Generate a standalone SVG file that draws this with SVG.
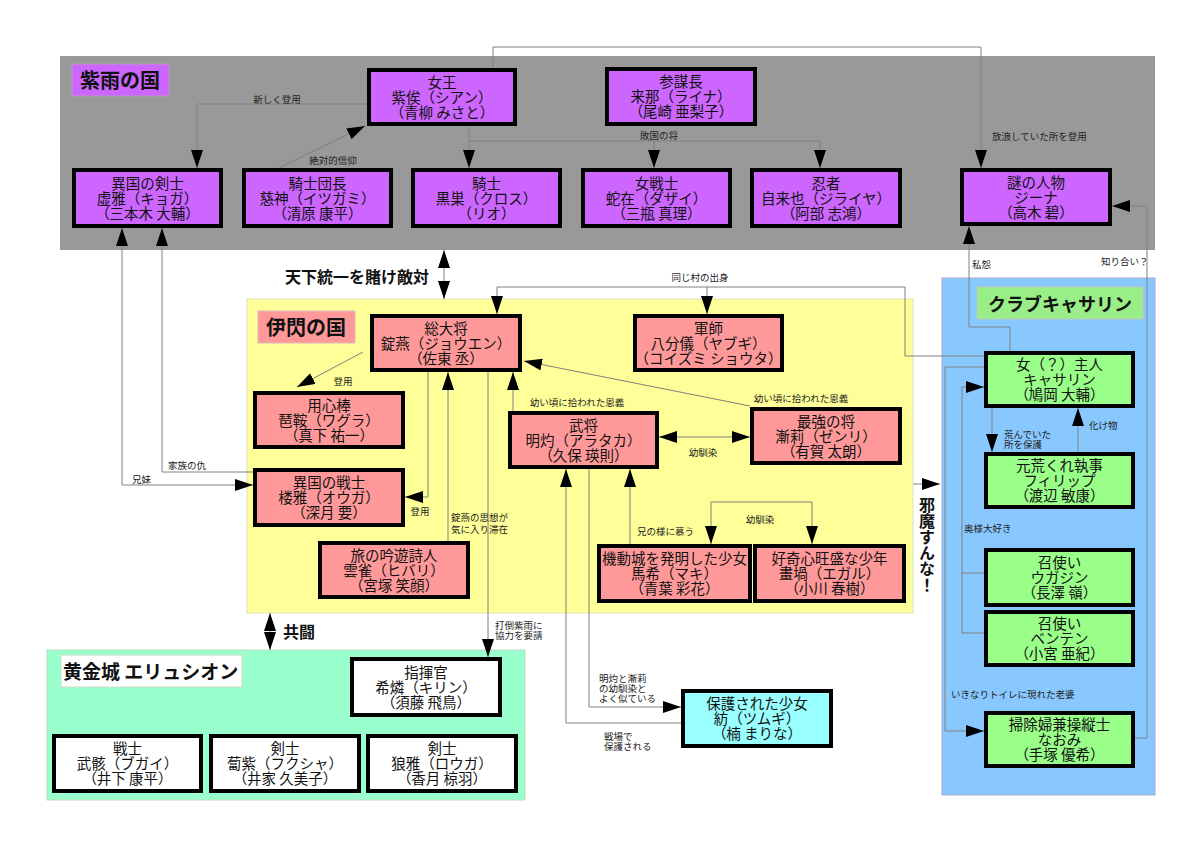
<svg xmlns="http://www.w3.org/2000/svg" width="1200" height="848" viewBox="0 0 1200 848">
<style>
text{font-family:"Noto Sans CJK JP","Noto Sans CJK SC",sans-serif}
.n{font-size:14.5px;text-anchor:middle;fill:#111}
.l{font-size:9.5px;fill:#222}
.c{text-anchor:middle}
.b{font-weight:bold;fill:#111}
.box{stroke:#000;stroke-width:4}
.pu{fill:#cc66ff}.pk{fill:#ff9999}.gr{fill:#99ff88}.wh{fill:#ffffff}.cy{fill:#99ffff}
.ln{fill:none;stroke:#808080;stroke-width:1}
.a{marker-end:url(#ah)}
.aa{marker-end:url(#ah);marker-start:url(#ah)}
</style>
<defs>
<marker id="ah" markerUnits="userSpaceOnUse" markerWidth="18" markerHeight="12" refX="18" refY="6" orient="auto-start-reverse"><path d="M0,0 L18,6 L0,12 z" fill="#000"/></marker>
</defs>
<rect width="1200" height="848" fill="#fff"/>
<g id="regions">
<rect x="60" y="56" width="1095" height="194" fill="#999999"/>
<rect x="247" y="299" width="666" height="314" fill="#ffff99" stroke="#e0e0c0"/>
<rect x="942" y="278" width="213" height="517" fill="#88c8ff" stroke="#aac"/>
<rect x="47" y="650" width="478" height="150" fill="#99ffcc" stroke="#bdb"/>
<rect x="72" y="64" width="97" height="32" fill="#cc66ff" stroke="#b9b"/>
<text x="80" y="88" class="b" font-size="20">紫雨の国</text>
<rect x="258" y="311" width="97" height="32" fill="#ff9999" stroke="#dbb"/>
<text x="266" y="335" class="b" font-size="20">伊閃の国</text>
<rect x="977" y="287" width="166" height="32" fill="#99ee88" stroke="#bcb"/>
<text x="1060" y="311" class="b c" font-size="18">クラブキャサリン</text>
<rect x="61" y="655" width="181" height="32" fill="#ffffff" stroke="#cdc"/>
<text x="63" y="679" class="b" font-size="19">黄金城 エリュシオン</text>
</g>
<g id="connectors">
<path class="ln a" d="M367,104 H197 V168"/>
<path class="ln a" d="M279,168 L365,126"/>
<path class="ln a" d="M469,126 V168"/>
<path class="ln a" d="M469,141 H820 V168"/>
<path class="ln a" d="M654,141 V168"/>
<path class="ln a" d="M493,67 V47 H981 V168"/>
<path class="ln a" d="M1010,351 V327 H969 V226"/>
<path class="ln a" d="M1135,738 H1147 V206 H1112"/>
<path class="ln aa" d="M444,250 V299"/>
<path class="ln a" d="M984,356 H905 V287 H497 V314"/>
<path class="ln a" d="M707,287 V314"/>
<path class="ln a" d="M363,352 L297,387"/>
<path class="ln a" d="M428,372 V497 H405"/>
<path class="ln a" d="M448,541 V372"/>
<path class="ln a" d="M488,372 V657"/>
<path class="ln a" d="M513,411 V372"/>
<path class="ln a" d="M750,406 L524,361"/>
<path class="ln aa" d="M659,437 H750"/>
<path class="ln a" d="M630,544 V469"/>
<path class="ln aa" d="M711,544 V502 H812 V544"/>
<path class="ln a" d="M681,723 H566 V469"/>
<path class="ln a" d="M589,469 V707 H681"/>
<path class="ln a" d="M253,472 H162 V228"/>
<path class="ln aa" d="M122,228 V485 H253"/>
<path class="ln aa" d="M270,613 V650"/>
<path class="ln a" d="M913,484 H940"/>
<path class="ln a" d="M992,408 V452"/>
<path class="ln a" d="M1078,452 V408"/>
<path class="ln a" d="M984,633 H962 V387 H984"/>
<path class="ln" d="M984,573 H962"/>
<path class="ln a" d="M984,367 H945 V731 H984"/>
<text class="l c" x="277" y="103">新しく登用</text>
<text class="l c" x="333" y="164">絶対的信仰</text>
<text class="l c" x="659" y="139">敗国の将</text>
<text class="l" x="992" y="140">放浪していた所を登用</text>
<text class="l" x="972" y="268">私怨</text>
<text class="l" x="1101" y="265">知り合い？</text>
<text class="l c" x="700" y="281">同じ村の出身</text>
<text class="l c" x="343" y="385">登用</text>
<text class="l c" x="420" y="515">登用</text>
<text class="l" x="451" y="521">錠燕の思想が</text>
<text class="l" x="451" y="533">気に入り滞在</text>
<text class="l" x="495" y="629">打倒紫雨に</text>
<text class="l" x="495" y="639">協力を要請</text>
<text class="l c" x="577" y="406">幼い頃に拾われた恩義</text>
<text class="l c" x="801" y="402">幼い頃に拾われた恩義</text>
<text class="l c" x="703" y="456">幼馴染</text>
<text class="l" x="637" y="535">兄の様に慕う</text>
<text class="l c" x="760" y="523">幼馴染</text>
<text class="l" x="599" y="682">明灼と漸莉</text>
<text class="l" x="599" y="692">の幼馴染と</text>
<text class="l" x="599" y="702">よく似ている</text>
<text class="l" x="604" y="740">戦場で</text>
<text class="l" x="604" y="750">保護される</text>
<text class="l" x="168" y="469">家族の仇</text>
<text class="l" x="132" y="483">兄妹</text>
<text class="l" x="1004" y="438">荒んでいた</text>
<text class="l" x="1004" y="448">所を保護</text>
<text class="l" x="1089" y="429">化け物</text>
<text class="l" x="964" y="532">奥様大好き</text>
<text class="l" x="951" y="698">いきなりトイレに現れた老婆</text>
<text class="b" x="285" y="283" font-size="16">天下統一を賭け敵対</text>
<text class="b" x="283" y="638" font-size="16">共闘</text>
<text class="b" x="927" y="497" font-size="16" writing-mode="vertical-rl">邪魔すんな！</text>
</g>
<g id="queen"><rect class="box pu" x="369" y="70" width="146" height="54"/><text class="n" x="442" y="87.5"><tspan x="442">女王</tspan><tspan x="442" dy="15">紫俟（シアン）</tspan><tspan x="442" dy="15">（青柳 みさと）</tspan></text></g>
<g id="sanbou"><rect class="box pu" x="607" y="69" width="148" height="55"/><text class="n" x="681" y="87"><tspan x="681">参謀長</tspan><tspan x="681" dy="15">来那（ライナ）</tspan><tspan x="681" dy="15">（尾崎 亜梨子）</tspan></text></g>
<g id="kyoga"><rect class="box pu" x="74" y="170" width="147" height="56"/><text class="n" x="147.5" y="188.5"><tspan x="147.5">異国の剣士</tspan><tspan x="147.5" dy="15">虚雅（キョガ）</tspan><tspan x="147.5" dy="15">（三本木 大輔）</tspan></text></g>
<g id="itsugami"><rect class="box pu" x="244" y="170" width="147" height="56"/><text class="n" x="317.5" y="188.5"><tspan x="317.5">騎士団長</tspan><tspan x="317.5" dy="15">慈神（イツガミ）</tspan><tspan x="317.5" dy="15">（清原 康平）</tspan></text></g>
<g id="kurosu"><rect class="box pu" x="413" y="170" width="147" height="56"/><text class="n" x="486.5" y="188.5"><tspan x="486.5">騎士</tspan><tspan x="486.5" dy="15">黒巣（クロス）</tspan><tspan x="486.5" dy="15">（リオ）</tspan></text></g>
<g id="dazai"><rect class="box pu" x="583" y="170" width="147" height="56"/><text class="n" x="656.5" y="188.5"><tspan x="656.5">女戦士</tspan><tspan x="656.5" dy="15">蛇在（ダザイ）</tspan><tspan x="656.5" dy="15">（三瓶 真理）</tspan></text></g>
<g id="jiraiya"><rect class="box pu" x="752" y="170" width="148" height="56"/><text class="n" x="826" y="188.5"><tspan x="826">忍者</tspan><tspan x="826" dy="15">自来也（ジライヤ）</tspan><tspan x="826" dy="15">（阿部 志鴻）</tspan></text></g>
<g id="gina"><rect class="box pu" x="962" y="170" width="148" height="54"/><text class="n" x="1036" y="187.5"><tspan x="1036">謎の人物</tspan><tspan x="1036" dy="15">ジーナ</tspan><tspan x="1036" dy="15">（高木 碧）</tspan></text></g>
<g id="jouen"><rect class="box pk" x="372" y="316" width="148" height="54"/><text class="n" x="446" y="333.5"><tspan x="446">総大将</tspan><tspan x="446" dy="15">錠燕（ジョウエン）</tspan><tspan x="446" dy="15">（佐東 丞）</tspan></text></g>
<g id="yabugi"><rect class="box pk" x="635" y="316" width="147" height="54"/><text class="n" x="708.5" y="333.5"><tspan x="708.5">軍師</tspan><tspan x="708.5" dy="15">八分儀（ヤブギ）</tspan><tspan x="708.5" dy="15">（コイズミ ショウタ）</tspan></text></g>
<g id="wagura"><rect class="box pk" x="255" y="393" width="148" height="54"/><text class="n" x="329" y="410.5"><tspan x="329">用心棒</tspan><tspan x="329" dy="15">琶鞍（ワグラ）</tspan><tspan x="329" dy="15">（真下 祐一）</tspan></text></g>
<g id="ouga"><rect class="box pk" x="255" y="470" width="148" height="55"/><text class="n" x="329" y="488"><tspan x="329">異国の戦士</tspan><tspan x="329" dy="15">楼雅（オウガ）</tspan><tspan x="329" dy="15">（深月 要）</tspan></text></g>
<g id="arataka"><rect class="box pk" x="510" y="413" width="147" height="54"/><text class="n" x="583.5" y="430.5"><tspan x="583.5">武将</tspan><tspan x="583.5" dy="15">明灼（アラタカ）</tspan><tspan x="583.5" dy="15">（久保 瑛則）</tspan></text></g>
<g id="zenri"><rect class="box pk" x="752" y="409" width="148" height="54"/><text class="n" x="826" y="426.5"><tspan x="826">最強の将</tspan><tspan x="826" dy="15">漸莉（ゼンリ）</tspan><tspan x="826" dy="15">（有賀 太朗）</tspan></text></g>
<g id="hibari"><rect class="box pk" x="320" y="543" width="148" height="54"/><text class="n" x="394" y="560.5"><tspan x="394">旅の吟遊詩人</tspan><tspan x="394" dy="15">雲雀（ヒバリ）</tspan><tspan x="394" dy="15">（宮塚 笑顔）</tspan></text></g>
<g id="maki"><rect class="box pk" x="599" y="546" width="151" height="55"/><text class="n" x="674.5" y="564"><tspan x="674.5">機動城を発明した少女</tspan><tspan x="674.5" dy="15">馬希（マキ）</tspan><tspan x="674.5" dy="15">（青葉 彩花）</tspan></text></g>
<g id="egaru"><rect class="box pk" x="755" y="546" width="149" height="55"/><text class="n" x="829.5" y="564"><tspan x="829.5">好奇心旺盛な少年</tspan><tspan x="829.5" dy="15">畫堝（エガル）</tspan><tspan x="829.5" dy="15">（小川 春樹）</tspan></text></g>
<g id="catherine"><rect class="box gr" x="986" y="353" width="147" height="53"/><text class="n" x="1059.5" y="370"><tspan x="1059.5">女（？）主人</tspan><tspan x="1059.5" dy="15">キャサリン</tspan><tspan x="1059.5" dy="15">（鳩岡 大輔）</tspan></text></g>
<g id="philip"><rect class="box gr" x="986" y="454" width="147" height="53"/><text class="n" x="1059.5" y="471"><tspan x="1059.5">元荒くれ執事</tspan><tspan x="1059.5" dy="15">フィリップ</tspan><tspan x="1059.5" dy="15">（渡辺 敏康）</tspan></text></g>
<g id="ugajin"><rect class="box gr" x="986" y="550" width="147" height="55"/><text class="n" x="1059.5" y="568"><tspan x="1059.5">召使い</tspan><tspan x="1059.5" dy="15">ウガジン</tspan><tspan x="1059.5" dy="15">（長澤 嶺）</tspan></text></g>
<g id="benten"><rect class="box gr" x="986" y="612" width="147" height="53"/><text class="n" x="1059.5" y="629"><tspan x="1059.5">召使い</tspan><tspan x="1059.5" dy="15">ベンテン</tspan><tspan x="1059.5" dy="15">（小宮 亜紀）</tspan></text></g>
<g id="naomi"><rect class="box gr" x="986" y="713" width="147" height="53"/><text class="n" x="1059.5" y="730"><tspan x="1059.5">掃除婦兼操縦士</tspan><tspan x="1059.5" dy="15">なおみ</tspan><tspan x="1059.5" dy="15">（手塚 優希）</tspan></text></g>
<g id="kirin"><rect class="box wh" x="352" y="659" width="148" height="56"/><text class="n" x="426" y="677.5"><tspan x="426">指揮官</tspan><tspan x="426" dy="15">希燐（キリン）</tspan><tspan x="426" dy="15">（須藤 飛鳥）</tspan></text></g>
<g id="bugai"><rect class="box wh" x="54" y="736" width="147" height="55"/><text class="n" x="127.5" y="754"><tspan x="127.5">戦士</tspan><tspan x="127.5" dy="15">武骸（ブガイ）</tspan><tspan x="127.5" dy="15">（井下 康平）</tspan></text></g>
<g id="fukusha"><rect class="box wh" x="211" y="736" width="148" height="55"/><text class="n" x="285" y="754"><tspan x="285">剣士</tspan><tspan x="285" dy="15">蔔紫（フクシャ）</tspan><tspan x="285" dy="15">（井家 久美子）</tspan></text></g>
<g id="rouga"><rect class="box wh" x="368" y="736" width="148" height="55"/><text class="n" x="442" y="754"><tspan x="442">剣士</tspan><tspan x="442" dy="15">狼雅（ロウガ）</tspan><tspan x="442" dy="15">（香月 椋羽）</tspan></text></g>
<g id="tsumugi"><rect class="box cy" x="683" y="691" width="148" height="55"/><text class="n" x="757" y="709"><tspan x="757">保護された少女</tspan><tspan x="757" dy="15">紡（ツムギ）</tspan><tspan x="757" dy="15">（楠 まりな）</tspan></text></g>
</svg>
